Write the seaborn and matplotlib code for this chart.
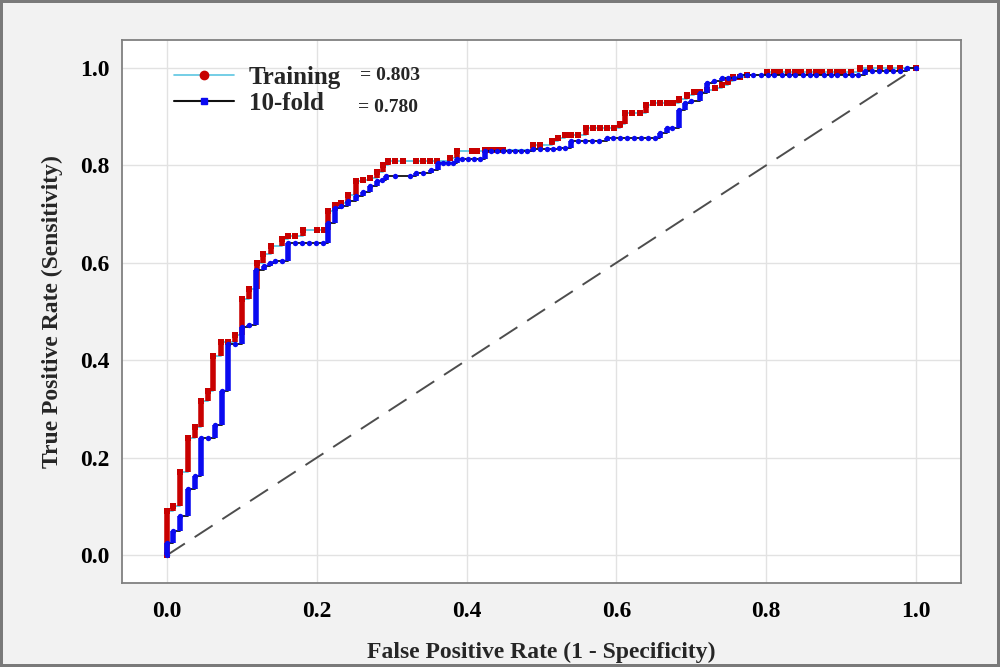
import numpy as np
import matplotlib
matplotlib.use('Agg')
import matplotlib.pyplot as plt
from matplotlib.lines import Line2D
import seaborn as sns

# ROC points (fpr, tpr)
train_fpr = [0.000, 0.000, 0.008, 0.018, 0.028, 0.037, 0.046, 0.055, 0.062, 0.072,
             0.082, 0.091, 0.100, 0.109, 0.120, 0.128, 0.139, 0.153, 0.162, 0.171,
             0.181, 0.200, 0.209, 0.215, 0.224, 0.233, 0.242, 0.253, 0.262, 0.271,
             0.280, 0.289, 0.295, 0.304, 0.315, 0.333, 0.342, 0.351, 0.360, 0.378,
             0.387, 0.407, 0.414, 0.425, 0.433, 0.441, 0.449, 0.489, 0.498, 0.514,
             0.522, 0.531, 0.540, 0.549, 0.560, 0.569, 0.578, 0.587, 0.597, 0.605,
             0.611, 0.621, 0.631, 0.640, 0.649, 0.658, 0.668, 0.676, 0.683, 0.694,
             0.703, 0.712, 0.721, 0.732, 0.741, 0.749, 0.756, 0.765, 0.774, 0.801,
             0.810, 0.819, 0.829, 0.838, 0.847, 0.857, 0.866, 0.875, 0.885, 0.894,
             0.903, 0.913, 0.925, 0.939, 0.952, 0.965, 0.979, 1.000]
train_tpr = [0.000, 0.091, 0.101, 0.171, 0.241, 0.262, 0.316, 0.337, 0.408, 0.437,
             0.437, 0.451, 0.526, 0.546, 0.600, 0.618, 0.634, 0.648, 0.654, 0.654,
             0.668, 0.668, 0.668, 0.706, 0.719, 0.723, 0.740, 0.767, 0.770, 0.774,
             0.787, 0.801, 0.808, 0.808, 0.808, 0.808, 0.808, 0.808, 0.808, 0.815,
             0.829, 0.829, 0.829, 0.832, 0.832, 0.832, 0.832, 0.842, 0.842, 0.849,
             0.856, 0.863, 0.863, 0.863, 0.876, 0.876, 0.876, 0.876, 0.876, 0.885,
             0.907, 0.907, 0.907, 0.924, 0.928, 0.928, 0.928, 0.928, 0.935, 0.945,
             0.951, 0.951, 0.955, 0.958, 0.965, 0.972, 0.982, 0.982, 0.986, 0.992,
             0.992, 0.992, 0.992, 0.992, 0.992, 0.992, 0.992, 0.992, 0.992, 0.992,
             0.992, 0.992, 1.000, 1.000, 1.000, 1.000, 1.000, 1.000]

cv_fpr = [0.000, 0.000, 0.008, 0.018, 0.028, 0.037, 0.046, 0.055, 0.064, 0.073,
          0.082, 0.091, 0.100, 0.109, 0.119, 0.129, 0.138, 0.144, 0.153, 0.162,
          0.171, 0.180, 0.190, 0.199, 0.208, 0.215, 0.224, 0.233, 0.242, 0.253,
          0.262, 0.271, 0.280, 0.287, 0.293, 0.304, 0.324, 0.333, 0.342, 0.353,
          0.362, 0.369, 0.375, 0.382, 0.387, 0.394, 0.402, 0.410, 0.418, 0.425,
          0.433, 0.441, 0.449, 0.457, 0.465, 0.473, 0.481, 0.489, 0.498, 0.507,
          0.515, 0.523, 0.531, 0.540, 0.549, 0.558, 0.567, 0.577, 0.587, 0.595,
          0.605, 0.614, 0.623, 0.633, 0.642, 0.651, 0.658, 0.667, 0.674, 0.683,
          0.692, 0.700, 0.712, 0.721, 0.730, 0.741, 0.749, 0.757, 0.765, 0.774,
          0.783, 0.793, 0.802, 0.811, 0.821, 0.830, 0.839, 0.849, 0.858, 0.867,
          0.877, 0.886, 0.895, 0.905, 0.914, 0.923, 0.932, 0.941, 0.951, 0.960,
          0.969, 0.979, 0.988, 1.000]
cv_tpr = [0.000, 0.026, 0.050, 0.080, 0.135, 0.162, 0.241, 0.241, 0.268, 0.337,
          0.434, 0.434, 0.469, 0.473, 0.586, 0.593, 0.600, 0.603, 0.603, 0.641,
          0.641, 0.641, 0.641, 0.641, 0.641, 0.681, 0.712, 0.716, 0.726, 0.736,
          0.746, 0.757, 0.767, 0.770, 0.777, 0.777, 0.777, 0.784, 0.784, 0.791,
          0.805, 0.805, 0.805, 0.805, 0.813, 0.813, 0.813, 0.813, 0.813, 0.829,
          0.829, 0.829, 0.829, 0.829, 0.829, 0.829, 0.829, 0.833, 0.833, 0.833,
          0.833, 0.835, 0.835, 0.849, 0.849, 0.849, 0.849, 0.849, 0.856, 0.856,
          0.856, 0.856, 0.856, 0.856, 0.856, 0.856, 0.866, 0.876, 0.876, 0.914,
          0.928, 0.931, 0.948, 0.969, 0.972, 0.979, 0.979, 0.979, 0.986, 0.986,
          0.986, 0.986, 0.986, 0.986, 0.986, 0.986, 0.986, 0.986, 0.986, 0.986,
          0.986, 0.986, 0.986, 0.986, 0.986, 0.986, 0.994, 0.994, 0.994, 0.994,
          0.994, 0.994, 1.000, 1.000]

series_names = ['Training', '10-fold']
auc_labels = ['= 0.803', '= 0.780']
ticks = [0.0, 0.2, 0.4, 0.6, 0.8, 1.0]

RED = '#C80000'
BLUE = '#0A0AF0'
CYAN = '#5CC6E2'

sns.set_style('whitegrid')
plt.rcParams['font.family'] = ['Liberation Serif', 'DejaVu Serif']
plt.rcParams['font.weight'] = 'bold'
plt.rcParams['axes.labelweight'] = 'bold'

fig = plt.figure(figsize=(10, 6.67), dpi=100, facecolor='#f2f2f2',
                 edgecolor='#7a7a7a', linewidth=3)
ax = fig.add_axes([0.122, 0.126, 0.839, 0.814])
ax.set_facecolor('white')

# chance line
ax.plot([0, 1], [0, 1], color='#4d4d4d', lw=1.4, linestyle=(0, (11, 6)), zorder=1)


def draw_roc(fpr, tpr, line_color, mark_color, marker, size, z):
    fpr = np.asarray(fpr)
    tpr = np.asarray(tpr)
    sns.lineplot(x=fpr, y=tpr, ax=ax, estimator=None, sort=False,
                 drawstyle='steps-post', color=line_color, linewidth=1.3, zorder=z)
    # stacked points on each vertical jump
    ax.vlines(fpr[1:], tpr[:-1], tpr[1:], colors=mark_color, linewidth=4.0, zorder=z + 0.1)
    sns.scatterplot(x=fpr, y=tpr, ax=ax, color=mark_color, marker=marker, s=size,
                    linewidth=0, zorder=z + 0.2)


draw_roc(train_fpr, train_tpr, CYAN, RED, 's', 14, 3)
draw_roc(cv_fpr, cv_tpr, '#111111', BLUE, 'o', 15, 4)

ax.set_xlim(-0.06, 1.06)
ax.set_ylim(-0.057, 1.057)
ax.set_xticks(ticks)
ax.set_yticks(ticks)
ax.set_xticklabels([f'{t:.1f}' for t in ticks])
ax.set_yticklabels([f'{t:.1f}' for t in ticks])
ax.tick_params(axis='both', length=5, width=1, color='#808080', labelsize=17,
               labelcolor='black')
ax.tick_params(axis='x', pad=8)
ax.tick_params(axis='y', pad=4)
ax.grid(color='#e2e2e2', lw=1)
for sp in ax.spines.values():
    sp.set_visible(True)
    sp.set_color('#808080')
    sp.set_linewidth(1.3)

ax.set_xlabel('False Positive Rate (1 - Specificity)', fontsize=17, labelpad=14)
ax.set_ylabel('True Positive Rate (Sensitivity)', fontsize=17, labelpad=12)

handles = [
    Line2D([], [], color=CYAN, lw=1.2, marker='o', markersize=6,
           markerfacecolor=RED, markeredgecolor=RED),
    Line2D([], [], color='#111111', lw=1.5, marker='s', markersize=5,
           markerfacecolor=BLUE, markeredgecolor=BLUE),
]
ax.legend(handles, series_names, loc='upper left', bbox_to_anchor=(0.062, 0.952),
          frameon=False, fontsize=18, handlelength=2.4, handletextpad=0.6,
          labelspacing=0.12, borderaxespad=0, borderpad=0)
ax.text(0.284, 0.934, auc_labels[0], transform=ax.transAxes, fontsize=14,
        va='center', ha='left')
ax.text(0.281, 0.876, auc_labels[1], transform=ax.transAxes, fontsize=14,
        va='center', ha='left')

fig.savefig('out.png', dpi=100, facecolor=fig.get_facecolor(), edgecolor=fig.get_edgecolor())
